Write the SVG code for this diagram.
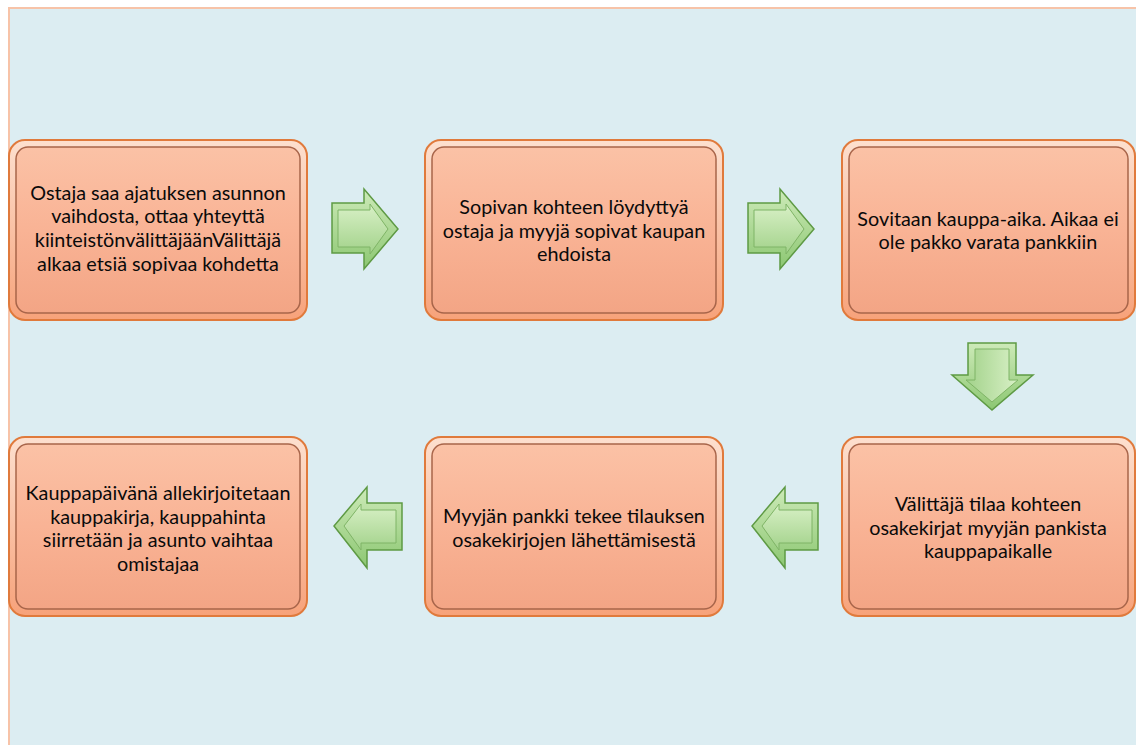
<svg xmlns="http://www.w3.org/2000/svg" width="1136" height="745" viewBox="0 0 1136 745">
<defs>
<linearGradient id="boxFill" x1="0" y1="0" x2="0" y2="1">
<stop offset="0" stop-color="#fbc2a6"/>
<stop offset="0.5" stop-color="#f9b395"/>
<stop offset="1" stop-color="#f3a585"/>
</linearGradient>
<linearGradient id="rimFill" x1="0" y1="0" x2="0" y2="1">
<stop offset="0" stop-color="#fde0cf"/>
<stop offset="1" stop-color="#f7a27a"/>
</linearGradient>
<linearGradient id="arrFill" x1="0" y1="0" x2="0" y2="1">
<stop offset="0" stop-color="#cdeab8"/>
<stop offset="1" stop-color="#8cc772"/>
</linearGradient>
<linearGradient id="arrInner" x1="0" y1="0" x2="0" y2="1">
<stop offset="0" stop-color="#d8f0c6"/>
<stop offset="1" stop-color="#a2d28a"/>
</linearGradient>
<linearGradient id="arrInnerV" x1="0" y1="0" x2="1" y2="0">
<stop offset="0" stop-color="#a2d28a"/>
<stop offset="1" stop-color="#d8f0c6"/>
</linearGradient>
</defs>
<style>
.rim{fill:url(#rimFill);stroke:#e07a3c;stroke-width:2}
.face{fill:url(#boxFill);stroke:#a8654a;stroke-width:1.5}
.lbl{font-family:Lato,"Open Sans","Liberation Sans",sans-serif;font-size:19.8px;fill:#0a0a0a;text-anchor:middle}
.arr{fill:url(#arrFill);stroke:#5e9a44;stroke-width:1.5}
.arrIn{fill:url(#arrInner);stroke:#7fb466;stroke-width:1}
.arrInV{fill:url(#arrInnerV);stroke:#7fb466;stroke-width:1}
</style>
<rect x="0" y="0" width="1136" height="745" fill="#ffffff"/>
<rect x="9" y="8" width="1140" height="745" fill="#dcedf2" stroke="#f7c3a8" stroke-width="2"/>

<g id="connectors">
<g id="arrow1">
<polygon class="arr" points="332,203 364,203 364,189 398,229 364,269 364,253 332,253"/>
<polygon class="arrIn" points="338,210 370,210 370,204 388,229 370,254 370,247 338,247"/>
</g>
<g id="arrow2">
<polygon class="arr" points="748,203 780,203 780,189 814,229 780,269 780,253 748,253"/>
<polygon class="arrIn" points="754,210 786,210 786,204 804,229 786,254 786,247 754,247"/>
</g>
<g id="arrow3">
<polygon class="arr" points="968,343 1016,343 1016,375 1033,375 992,410 952,375 968,375"/>
<polygon class="arrInV" points="975,349 1009,349 1009,380 1018,380 992,402 966,380 975,380"/>
</g>
<g id="arrow4">
<polygon class="arr" points="818,503 785,503 785,487 752,526 785,568 785,550 818,550"/>
<polygon class="arrIn" points="812,510 779,510 779,504 762,526 779,550 779,543 812,543"/>
</g>
<g id="arrow5">
<polygon class="arr" points="402,503 367,503 367,487 334,526 367,568 367,550 402,550"/>
<polygon class="arrIn" points="396,510 361,510 361,504 344,526 361,550 361,543 396,543"/>
</g>
</g>

<g id="node1">
<rect class="rim" x="9" y="140" width="298" height="180" rx="16"/>
<rect class="face" x="16" y="147" width="284" height="166" rx="12"/>
<text class="lbl" x="158" y="200">Ostaja saa ajatuksen asunnon</text>
<text class="lbl" x="158" y="223">vaihdosta, ottaa yhteyttä</text>
<text class="lbl" x="158" y="247">kiinteistönvälittäjäänVälittäjä</text>
<text class="lbl" x="158" y="271">alkaa etsiä sopivaa kohdetta</text>
</g>
<g id="node2">
<rect class="rim" x="425" y="140" width="298" height="180" rx="16"/>
<rect class="face" x="432" y="147" width="284" height="166" rx="12"/>
<text class="lbl" x="574" y="214">Sopivan kohteen löydyttyä</text>
<text class="lbl" x="574" y="238">ostaja ja myyjä sopivat kaupan</text>
<text class="lbl" x="574" y="261">ehdoista</text>
</g>
<g id="node3">
<rect class="rim" x="842" y="140" width="293" height="180" rx="16"/>
<rect class="face" x="849" y="147" width="279" height="166" rx="12"/>
<text class="lbl" x="988" y="226">Sovitaan kauppa-aika. Aikaa ei</text>
<text class="lbl" x="988" y="249">ole pakko varata pankkiin</text>
</g>
<g id="node4">
<rect class="rim" x="842" y="437" width="293" height="179" rx="16"/>
<rect class="face" x="849" y="444" width="279" height="165" rx="12"/>
<text class="lbl" x="988" y="511">Välittäjä tilaa kohteen</text>
<text class="lbl" x="988" y="535">osakekirjat myyjän pankista</text>
<text class="lbl" x="988" y="558">kauppapaikalle</text>
</g>
<g id="node5">
<rect class="rim" x="425" y="437" width="298" height="179" rx="16"/>
<rect class="face" x="432" y="444" width="284" height="165" rx="12"/>
<text class="lbl" x="574" y="523">Myyjän pankki tekee tilauksen</text>
<text class="lbl" x="574" y="547">osakekirjojen lähettämisestä</text>
</g>
<g id="node6">
<rect class="rim" x="9" y="437" width="298" height="179" rx="16"/>
<rect class="face" x="16" y="444" width="284" height="165" rx="12"/>
<text class="lbl" x="158" y="500">Kauppapäivänä allekirjoitetaan</text>
<text class="lbl" x="158" y="524">kauppakirja, kauppahinta</text>
<text class="lbl" x="158" y="547">siirretään ja asunto vaihtaa</text>
<text class="lbl" x="158" y="571">omistajaa</text>
</g>
</svg>
